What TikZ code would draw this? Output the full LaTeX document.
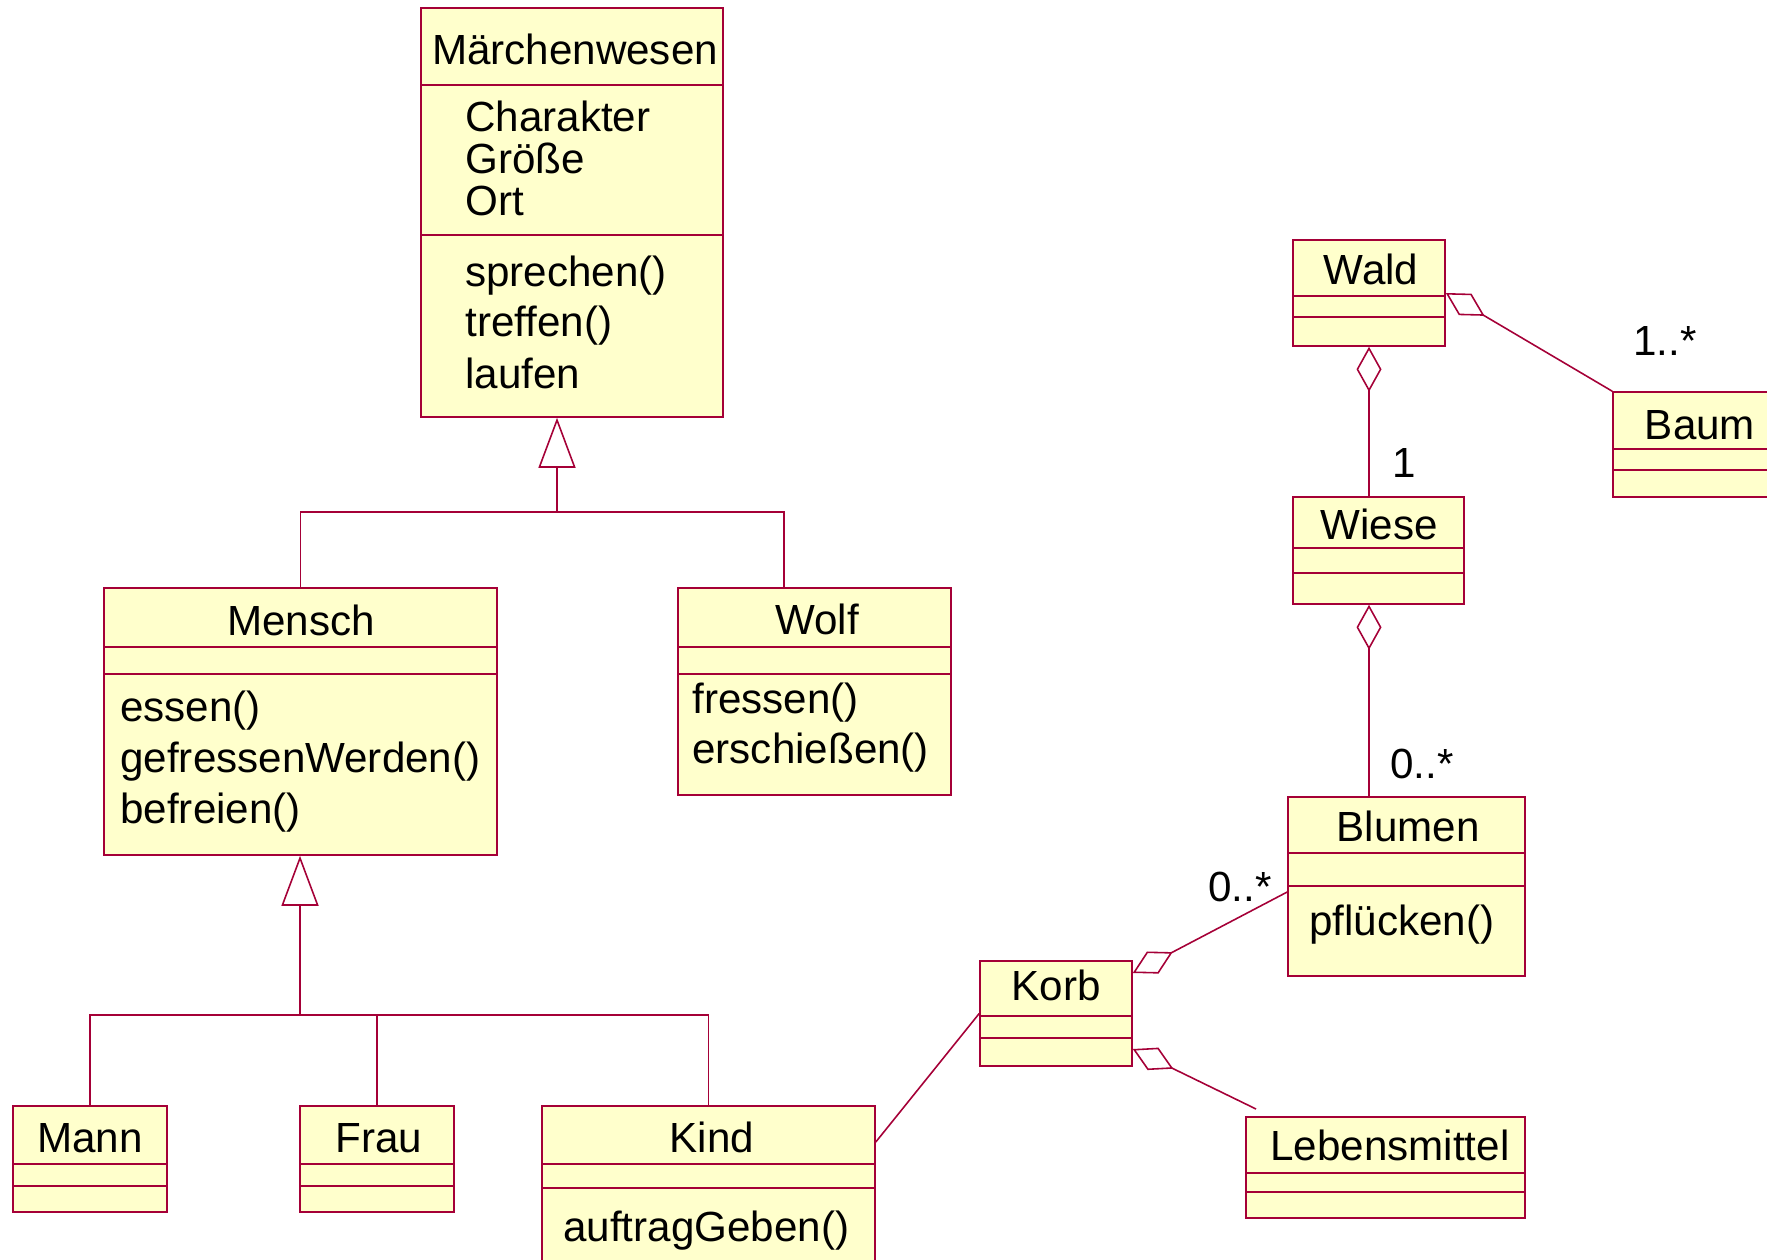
\documentclass[tikz,border=0pt]{standalone}
\usepackage{fontspec}
\setmainfont{Liberation Sans}
\usepackage{tikz}
\usetikzlibrary{arrows.meta}
\usetikzlibrary{fit}
\definecolor{umlred}{RGB}{165,0,55}
\definecolor{umlfill}{RGB}{255,255,204}
\tikzset{>=stealth}
\tikzset{
  umlline/.style={draw=umlred, line width=0.9pt},
  classbox/.style={umlline, fill=umlfill, inner sep=0pt},
  classname/.style={anchor=base, inner sep=0pt},
  members/.style={anchor=base west, inner sep=0pt},
  mult/.style={anchor=base west, inner sep=0pt},
  gen/.style={umlline, -{Triangle[open, length=1cm, width=0.74cm]}},
  agg/.style={umlline, -{Diamond[open, length=0.9cm, width=0.5cm]}}
}
\newcommand{\umlclass}[7]{%
  \node[classbox, fit={(#2,#3) (#4,#5)}] (#1) {};
  \draw[umlline] (#2,#6) -- (#4,#6) (#2,#7) -- (#4,#7);
}

\begin{document}
\begin{tikzpicture}[x=0.02cm, y=-0.02cm, every node/.append style={font=\fontsize{24}{28.6}\selectfont}]
      \useasboundingbox (0,0) rectangle (1767,1260);
      \umlclass{maerchen}{421}{8}{723}{417}{85}{235}
      \umlclass{mensch}{104}{588}{497}{855}{647}{674}
      \umlclass{wolf}{678}{588}{951}{795}{647}{674}
      \umlclass{mann}{13}{1106}{167}{1212}{1164}{1186}
      \umlclass{frau}{300}{1106}{454}{1212}{1164}{1186}
      \umlclass{kind}{542}{1106}{875}{1280}{1164}{1188}
      \umlclass{wald}{1293}{240}{1445}{346}{296}{317}
      \umlclass{baum}{1613}{392}{1785}{497}{449}{470}
      \umlclass{wiese}{1293}{497}{1464}{604}{548}{573}
      \umlclass{blumen}{1288}{797}{1525}{976}{853}{886}
      \umlclass{korb}{980}{961}{1132}{1066}{1016}{1038}
      \umlclass{lebensmittel}{1246}{1117}{1525}{1218}{1173}{1192}
      \node[classname] (maerchenname) at (575,65) {Märchenwesen};
      \node[members] (charakter) at (465,132) {Charakter};
      \node[members] (groesse) at (465,174) {Größe};
      \node[members] (ort) at (465,216) {Ort};
      \node[members] (sprechen) at (465,287) {sprechen()};
      \node[members] (treffen) at (465,337) {treffen()};
      \node[members] (laufen) at (465,388) {laufen};
      \node[classname] (menschname) at (301,635) {Mensch};
      \node[members] (essen) at (120,721) {essen()};
      \node[members] (gefressen) at (120,772) {gefressenWerden()};
      \node[members] (befreien) at (120,823) {befreien()};
      \node[classname] (wolfname) at (817,634) {Wolf};
      \node[members] (fressen) at (692,713) {fressen()};
      \node[members] (erschiessen) at (692,763) {erschießen()};
      \node[classname] (mannname) at (90,1152) {Mann};
      \node[classname] (frauname) at (379,1152) {Frau};
      \node[classname] (kindname) at (712,1152) {Kind};
      \node[members] (auftrag) at (563,1241) {auftragGeben()};
      \node[classname] (waldname) at (1371,285) {Wald};
      \node[classname] (baumname) at (1700,439) {Baum};
      \node[classname] (wiesename) at (1379,539) {Wiese};
      \node[classname] (blumenname) at (1408,841) {Blumen};
      \node[members] (pfluecken) at (1309,935) {pflücken()};
      \node[classname] (korbname) at (1056,1000) {Korb};
      \node[classname] (lebensmittelname) at (1390,1160) {Lebensmittel};
      \coordinate (g1) at (557,512);
      \draw[gen] (g1) -- (g1 |- maerchen.south);
      \draw[umlline] (mensch.north) |- (g1) -| (wolf.north -| 784,0);
      \coordinate (g2) at (300,1015);
      \draw[gen] (g2) -- (g2 |- mensch.south);
      \draw[umlline] (mann.north) |- (g2) -| (kind.north);
      \draw[umlline] (frau.north) -- (frau.north |- g2);
      \draw[agg] (baum.north west) -- (wald.east);
      \draw[agg] (wiese.north -| wald.south) -- (wald.south);
      \draw[agg] (blumen.north -| wald.south) -- (wiese.south -| wald.south);
      \draw[agg] (blumen.west |- 0,892) -- (korb.east |- 0,973);
      \coordinate (lmend) at (1256,1109);
      \draw[agg] (lmend) -- (korb.east |- 0,1049);
      \draw[umlline] (kind.east |- 0,1142) -- (korb.west);
      \node[mult] (multbaum) at (1633,356) {1..*};
      \node[mult] (multwiese) at (1392,477) {1};
      \node[mult] (multblumen) at (1390,778) {0..*};
      \node[mult] (multkorb) at (1208,901) {0..*};
\end{tikzpicture}
\end{document}
